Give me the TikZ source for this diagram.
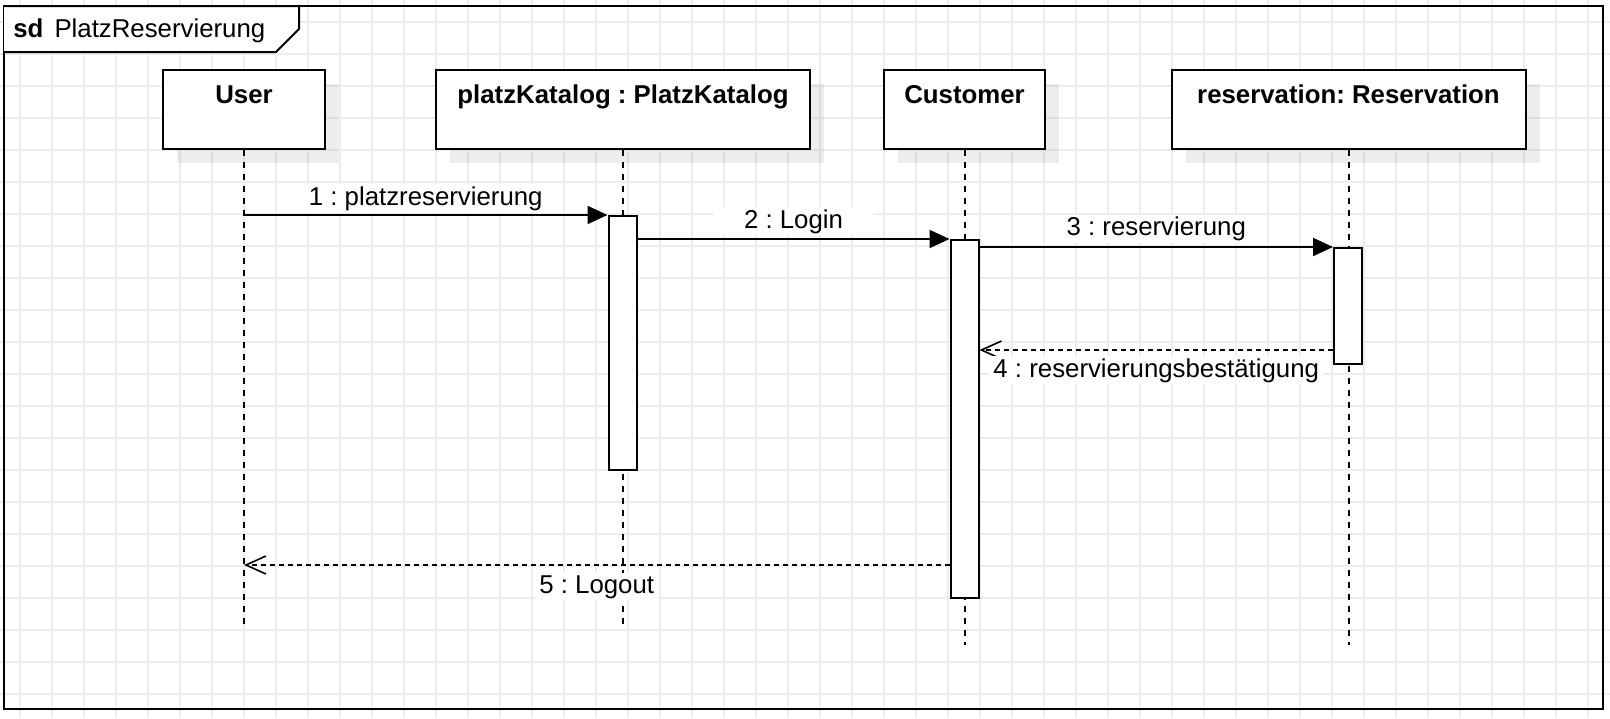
\documentclass[tikz,border=0pt]{standalone}
\usepackage{fontspec}
\setmainfont{Liberation Sans}
\usepackage{xcolor}
\usepackage{tikz}
\usetikzlibrary{positioning,shadows,arrows.meta}

\begin{document}
\begin{tikzpicture}
[x=0.5pt, y=-0.5pt, font=\fontsize{12.9}{15}\selectfont\frenchspacing,
    gridline/.style={draw=black!7, line width=0.75pt},
    frame/.style={draw=black, line width=1pt},
    head/.style={rectangle, draw=black, fill=white, line width=1pt,
    minimum height=39.5pt, inner ysep=7pt, text height=9.5pt, text depth=16pt,
    font=\fontsize{12.9}{15}\selectfont\frenchspacing\bfseries,
    drop shadow={shadow xshift=7pt, shadow yshift=-7pt, fill=black, opacity=0.07}},
    lifeline/.style={draw=black, line width=1pt, dash pattern=on 3pt off 3pt},
    bar/.style={rectangle, draw=black, fill=white, line width=1pt,
    minimum width=14pt, inner sep=0pt, anchor=north},
    call/.style={draw=black, line width=1pt, -{Triangle[length=10pt,width=9pt]}},
    reply/.style={draw=black, line width=1pt, dash pattern=on 2.5pt off 2pt,
    -{Straight Barb[length=10pt,width=9pt,line width=0.8pt]}},
    msg/.style={fill=white, inner xsep=2pt, inner ysep=1pt, midway, anchor=base}
    ]

    \useasboundingbox (0,0) rectangle (1610,718);

    % background grid
    \foreach \gx in {20,52,...,1610} \draw[gridline] (\gx,0) -- (\gx,718);
    \foreach \gy in {22,54,...,718} \draw[gridline] (0,\gy) -- (1610,\gy);

    % sd frame
    \draw[frame] (4,6) rectangle (1603,709);
    \draw[frame, fill=white] (4,6) -- (299,6) -- (299,29) -- (276,52) -- (4,52);
    \node[anchor=base west, inner sep=0pt] (title) at (13,37)
        {\textbf{sd}\hspace{5.5pt}PlatzReservierung};

    % lifeline heads
    \node[head, minimum width=81pt] (user) at (244,109.5) {User};
    \node[head, minimum width=187pt] (katalog) at (623,109.5) {platzKatalog : PlatzKatalog};
    \node[head, minimum width=80.5pt] (customer) at (964.5,109.5) {Customer};
    \node[head, minimum width=177pt] (reservation) at (1348.5,109.5) {reservation: Reservation};

    \coordinate (user-end) at (244,626);
    \coordinate (katalog-end) at (623,626);
    \coordinate (customer-end) at (964.5,645);
    \coordinate (reservation-end) at (1348.5,645);

    \draw[lifeline] (user.south) -- (user-end);
    \draw[lifeline] (katalog.south) -- (katalog-end);
    \draw[lifeline] (customer.south) -- (customer-end);
    \draw[lifeline] (reservation.south) -- (reservation-end);

    % activations
    \node[bar, minimum height=127pt] (katbar) at (622.5,215) {};
    \node[bar, minimum height=179pt] (custbar) at (964.5,239) {};
    \node[bar, minimum height=58pt] (resbar) at (1348,247) {};

    \coordinate (m4) at (1348,350);
    \coordinate (m5) at (964.5,565);

    % messages
    \draw[call] (user.south |- katbar.north) --
        node[msg, yshift=5pt] {1 : platzreservierung} (katbar.north west);
    \draw[call] (katbar.east |- custbar.north) --
        node[msg, yshift=5.5pt, inner xsep=15pt] {2 : Login} (custbar.north west);
    \draw[call] (custbar.east |- resbar.north) --
        node[msg, yshift=5.8pt] {3 : reservierung} (resbar.north west);
    \draw[reply] (resbar.west |- m4) --
        node[msg, yshift=-13.5pt] {4 : reservierungsbestätigung} (custbar.east |- m4);
    \draw[reply] (custbar.west |- m5) --
        node[msg, yshift=-14pt] {5 : Logout} (user.south |- m5);
\end{tikzpicture}
\end{document}
